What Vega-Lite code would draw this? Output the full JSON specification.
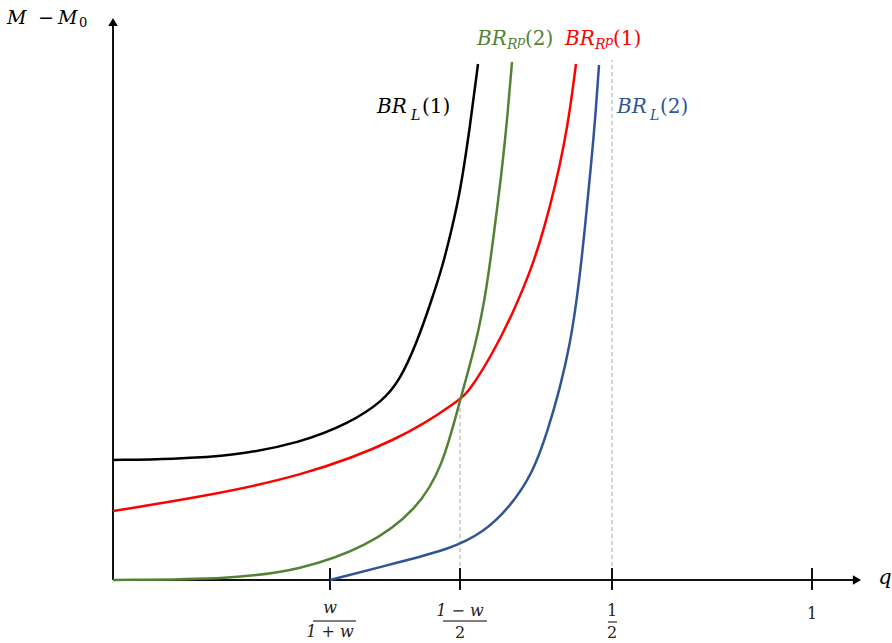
{
  "$schema": "https://vega.github.io/schema/vega-lite/v6.json",
  "width": 747,
  "height": 565,
  "autosize": {"type": "none"},
  "padding": {"left": 113, "top": 15, "right": 32, "bottom": 63},
  "background": "white",
  "config": {"view": {"stroke": null}, "text": {"font": "DejaVu Serif"}},
  "encoding": {
    "x": {"field": "x", "type": "quantitative", "scale": {"domain": [0, 747], "nice": false, "zero": false}, "axis": null},
    "y": {"field": "y", "type": "quantitative", "scale": {"domain": [0, 565], "nice": false, "zero": false}, "axis": null}
  },
  "layer": [
    {
      "data": {"values": [{"x": 499, "y": 0, "y2": 520}, {"x": 347, "y": 0, "y2": 182}]},
      "mark": {"type": "rule", "color": "#a6a6a6", "strokeDash": [4, 3], "strokeWidth": 1},
      "encoding": {"y2": {"field": "y2"}}
    },
    {
      "data": {"values": [{"x": 0, "y": 0, "x2": 0, "y2": 556}, {"x": 0, "y": 0, "x2": 740, "y2": 0}]},
      "mark": {"type": "rule", "color": "#111111", "strokeWidth": 2},
      "encoding": {"x2": {"field": "x2"}, "y2": {"field": "y2"}}
    },
    {
      "data": {"values": [{"x": 217, "y": -10, "y2": 12}, {"x": 347, "y": -10, "y2": 12}, {"x": 499, "y": -10, "y2": 12}, {"x": 699, "y": -10, "y2": 12}]},
      "mark": {"type": "rule", "color": "#111111", "strokeWidth": 2},
      "encoding": {"y2": {"field": "y2"}}
    },
    {
      "data": {"values": [{"x": 0, "y": 558, "dir": "up"}, {"x": 744, "y": 0, "dir": "right"}]},
      "mark": {"type": "point", "filled": true, "color": "#000000", "size": 90, "opacity": 1},
      "encoding": {"shape": {"field": "dir", "type": "nominal", "scale": {"domain": ["up", "right"], "range": ["triangle-up", "triangle-right"]}, "legend": null}}
    },
    {
      "data": {"values": [
        {"s": "BR_L(1)", "x": 0, "y": 120}, {"s": "BR_L(1)", "x": 60, "y": 121}, {"s": "BR_L(1)", "x": 120, "y": 124}, {"s": "BR_L(1)", "x": 187, "y": 137}, {"s": "BR_L(1)", "x": 237, "y": 157}, {"s": "BR_L(1)", "x": 270, "y": 179}, {"s": "BR_L(1)", "x": 287, "y": 200}, {"s": "BR_L(1)", "x": 304, "y": 238}, {"s": "BR_L(1)", "x": 317, "y": 275}, {"s": "BR_L(1)", "x": 330, "y": 315}, {"s": "BR_L(1)", "x": 339, "y": 352}, {"s": "BR_L(1)", "x": 347, "y": 387}, {"s": "BR_L(1)", "x": 357, "y": 453}, {"s": "BR_L(1)", "x": 365, "y": 516},
        {"s": "BR_Rp(1)", "x": 0, "y": 69}, {"s": "BR_Rp(1)", "x": 87, "y": 83}, {"s": "BR_Rp(1)", "x": 187, "y": 103}, {"s": "BR_Rp(1)", "x": 287, "y": 140}, {"s": "BR_Rp(1)", "x": 347, "y": 180}, {"s": "BR_Rp(1)", "x": 357, "y": 190}, {"s": "BR_Rp(1)", "x": 380, "y": 227}, {"s": "BR_Rp(1)", "x": 400, "y": 267}, {"s": "BR_Rp(1)", "x": 420, "y": 315}, {"s": "BR_Rp(1)", "x": 432, "y": 355}, {"s": "BR_Rp(1)", "x": 442, "y": 393}, {"s": "BR_Rp(1)", "x": 451, "y": 435}, {"s": "BR_Rp(1)", "x": 457, "y": 470}, {"s": "BR_Rp(1)", "x": 463, "y": 516},
        {"s": "BR_Rp(2)", "x": 0, "y": 0}, {"s": "BR_Rp(2)", "x": 120, "y": 1}, {"s": "BR_Rp(2)", "x": 187, "y": 10}, {"s": "BR_Rp(2)", "x": 254, "y": 33}, {"s": "BR_Rp(2)", "x": 304, "y": 70}, {"s": "BR_Rp(2)", "x": 330, "y": 114}, {"s": "BR_Rp(2)", "x": 347, "y": 180}, {"s": "BR_Rp(2)", "x": 364, "y": 240}, {"s": "BR_Rp(2)", "x": 374, "y": 293}, {"s": "BR_Rp(2)", "x": 382, "y": 355}, {"s": "BR_Rp(2)", "x": 388, "y": 402}, {"s": "BR_Rp(2)", "x": 394, "y": 458}, {"s": "BR_Rp(2)", "x": 399, "y": 518},
        {"s": "BR_L(2)", "x": 217, "y": 0}, {"s": "BR_L(2)", "x": 287, "y": 18}, {"s": "BR_L(2)", "x": 337, "y": 31}, {"s": "BR_L(2)", "x": 370, "y": 47}, {"s": "BR_L(2)", "x": 397, "y": 73}, {"s": "BR_L(2)", "x": 420, "y": 107}, {"s": "BR_L(2)", "x": 435, "y": 150}, {"s": "BR_L(2)", "x": 447, "y": 192}, {"s": "BR_L(2)", "x": 457, "y": 235}, {"s": "BR_L(2)", "x": 465, "y": 288}, {"s": "BR_L(2)", "x": 472, "y": 352}, {"s": "BR_L(2)", "x": 478, "y": 415}, {"s": "BR_L(2)", "x": 482, "y": 458}, {"s": "BR_L(2)", "x": 486, "y": 515}
      ]},
      "mark": {"type": "line", "strokeWidth": 2.5, "interpolate": "basis"},
      "encoding": {
        "color": {"field": "s", "type": "nominal", "scale": {"domain": ["BR_L(1)", "BR_Rp(2)", "BR_Rp(1)", "BR_L(2)"], "range": ["#000000", "#548235", "#ff0000", "#2f5597"]}, "legend": null},
        "order": {"field": "x", "type": "quantitative"}
      }
    },
    {
      "data": {"values": [{"x": 200, "x2": 243, "y": -41}, {"x": 330, "x2": 374, "y": -41}, {"x": 495, "x2": 504, "y": -42}]},
      "mark": {"type": "rule", "color": "#555555", "strokeWidth": 1.5},
      "encoding": {"x2": {"field": "x2"}}
    },
    {
      "data": {"values": [{"t": "w", "x": 217, "y": -33}, {"t": "1 + w", "x": 217, "y": -57}, {"t": "1 − w", "x": 347, "y": -36}]},
      "mark": {"type": "text", "fontSize": 16, "fontStyle": "italic", "align": "center", "baseline": "alphabetic", "color": "#222222"},
      "encoding": {"text": {"field": "t"}}
    },
    {
      "data": {"values": [{"t": "2", "x": 347, "y": -58}, {"t": "1", "x": 499, "y": -36}, {"t": "2", "x": 499, "y": -58}, {"t": "1", "x": 699, "y": -39}]},
      "mark": {"type": "text", "fontSize": 16, "align": "center", "baseline": "alphabetic", "color": "#222222"},
      "encoding": {"text": {"field": "t"}}
    },
    {
      "data": {"values": [{"t": "q", "x": 772, "y": -4}]},
      "mark": {"type": "text", "fontSize": 21, "fontStyle": "italic", "align": "center", "baseline": "alphabetic", "color": "#000000"},
      "encoding": {"text": {"field": "t"}}
    },
    {
      "data": {"values": [{"t": "M", "x": -106, "y": 556}, {"t": "−", "x": -75, "y": 556}, {"t": "M", "x": -55, "y": 556}]},
      "mark": {"type": "text", "fontSize": 19, "fontStyle": "italic", "align": "left", "baseline": "alphabetic", "color": "#000000"},
      "encoding": {"text": {"field": "t"}}
    },
    {
      "data": {"values": [{"t": "0", "x": -34, "y": 553}]},
      "mark": {"type": "text", "fontSize": 13, "align": "left", "baseline": "alphabetic", "color": "#000000"},
      "encoding": {"text": {"field": "t"}}
    },
    {
      "data": {"values": [
        {"t": "BR", "x": 264, "y": 467, "s": "BR_L(1)"}, {"t": "BR", "x": 504, "y": 467, "s": "BR_L(2)"},
        {"t": "BR", "x": 364, "y": 535, "s": "BR_Rp(2)"}, {"t": "BR", "x": 452, "y": 535, "s": "BR_Rp(1)"}
      ]},
      "mark": {"type": "text", "fontSize": 20, "fontStyle": "italic", "align": "left", "baseline": "alphabetic"},
      "encoding": {"text": {"field": "t"}, "color": {"field": "s", "type": "nominal", "legend": null}}
    },
    {
      "data": {"values": [
        {"t": "(1)", "x": 309, "y": 467, "s": "BR_L(1)"}, {"t": "(2)", "x": 547, "y": 467, "s": "BR_L(2)"},
        {"t": "(2)", "x": 412, "y": 535, "s": "BR_Rp(2)"}, {"t": "(1)", "x": 500, "y": 535, "s": "BR_Rp(1)"}
      ]},
      "mark": {"type": "text", "fontSize": 20, "align": "left", "baseline": "alphabetic"},
      "encoding": {"text": {"field": "t"}, "color": {"field": "s", "type": "nominal", "legend": null}}
    },
    {
      "data": {"values": [
        {"t": "L", "x": 298, "y": 460, "s": "BR_L(1)"}, {"t": "L", "x": 537, "y": 460, "s": "BR_L(2)"},
        {"t": "R", "x": 394, "y": 531, "s": "BR_Rp(2)"}, {"t": "R", "x": 482, "y": 531, "s": "BR_Rp(1)"}
      ]},
      "mark": {"type": "text", "fontSize": 14, "fontStyle": "italic", "align": "left", "baseline": "alphabetic"},
      "encoding": {"text": {"field": "t"}, "color": {"field": "s", "type": "nominal", "legend": null}}
    },
    {
      "data": {"values": [
        {"t": "p", "x": 404, "y": 535, "s": "BR_Rp(2)"}, {"t": "p", "x": 492, "y": 535, "s": "BR_Rp(1)"}
      ]},
      "mark": {"type": "text", "fontSize": 13, "fontStyle": "italic", "align": "left", "baseline": "alphabetic"},
      "encoding": {"text": {"field": "t"}, "color": {"field": "s", "type": "nominal", "legend": null}}
    }
  ]
}
